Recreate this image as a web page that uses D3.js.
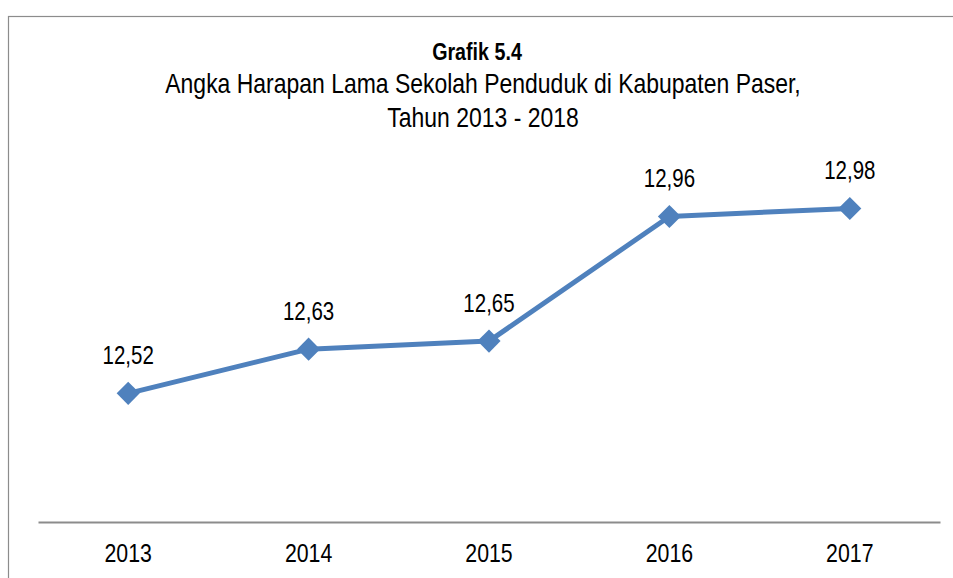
<!DOCTYPE html>
<html>
<head>
<meta charset="utf-8">
<script src="https://cdn.jsdelivr.net/npm/d3@7"></script>
<style>
  body { margin: 0; background: #fff; }
  svg text { font-family: "Liberation Sans", Arial, sans-serif; fill: #000; }
</style>
</head>
<body>
<svg width="953" height="578"></svg>
<script>
var years = ["2013", "2014", "2015", "2016", "2017"];
var values = [12.52, 12.63, 12.65, 12.96, 12.98];
var valueLabels = ["12,52", "12,63", "12,65", "12,96", "12,98"];
var titleLines = ["Angka Harapan Lama Sekolah Penduduk di Kabupaten Paser,", "Tahun 2013 - 2018"];

var svg = d3.select("svg"),
    width = +svg.attr("width"),
    height = +svg.attr("height");

var narrow = 0.82; // squeeze to look like a narrow font

// outer frame
svg.append("rect")
    .attr("x", 8.5).attr("y", 16.5)
    .attr("width", 960).attr("height", 600)
    .attr("fill", "none")
    .attr("stroke", "#8c8c8c")
    .attr("stroke-width", 1.2);

var x = d3.scaleBand().domain(years).range([38, 940]);
var y = d3.scaleLinear().domain([12.2, 13.2]).range([522, 120]);

// title
svg.append("text")
    .attr("transform", "translate(477,60) scale(" + narrow + ",1)")
    .attr("text-anchor", "middle")
    .style("font-size", "24px")
    .style("font-weight", "bold")
    .text("Grafik 5.4");

svg.selectAll(".sub")
    .data(titleLines)
    .enter().append("text")
    .attr("class", "sub")
    .attr("transform", function(d, i) { return "translate(483," + (93 + i * 34) + ") scale(" + narrow + ",1)"; })
    .attr("text-anchor", "middle")
    .style("font-size", "28px")
    .text(function(d) { return d; });

// x axis
var xAxis = svg.append("g")
    .attr("transform", "translate(0," + 522 + ")")
    .call(d3.axisBottom(x).tickSize(0).tickPadding(22));
xAxis.select(".domain").attr("stroke", "#8c8c8c").attr("stroke-width", 2);
xAxis.selectAll("text")
    .attr("transform", "scale(" + narrow + ",1)")
    .style("font-size", "26px")
    .style("font-family", "'Liberation Sans', Arial, sans-serif")
    .attr("fill", "#000");

var data = years.map(function(d, i) { return { year: d, value: values[i], label: valueLabels[i] }; });

var line = d3.line()
    .x(function(d) { return x(d.year) + x.bandwidth() / 2; })
    .y(function(d) { return y(d.value); });

svg.append("path")
    .datum(data)
    .attr("d", line)
    .attr("fill", "none")
    .attr("stroke", "#4f81bd")
    .attr("stroke-width", 5)
    .attr("stroke-linejoin", "round");

svg.selectAll(".pt")
    .data(data)
    .enter().append("path")
    .attr("class", "pt")
    .attr("d", d3.symbol().type(d3.symbolDiamond2).size(340))
    .attr("transform", function(d) { return "translate(" + (x(d.year) + x.bandwidth() / 2) + "," + y(d.value) + ")"; })
    .attr("fill", "#4f81bd");

svg.selectAll(".lbl")
    .data(data)
    .enter().append("text")
    .attr("class", "lbl")
    .attr("transform", function(d) {
      return "translate(" + (x(d.year) + x.bandwidth() / 2) + "," + (y(d.value) - 29) + ") scale(" + narrow + ",1)";
    })
    .attr("text-anchor", "middle")
    .style("font-size", "25px")
    .text(function(d) { return d.label; });
</script>
</body>
</html>
